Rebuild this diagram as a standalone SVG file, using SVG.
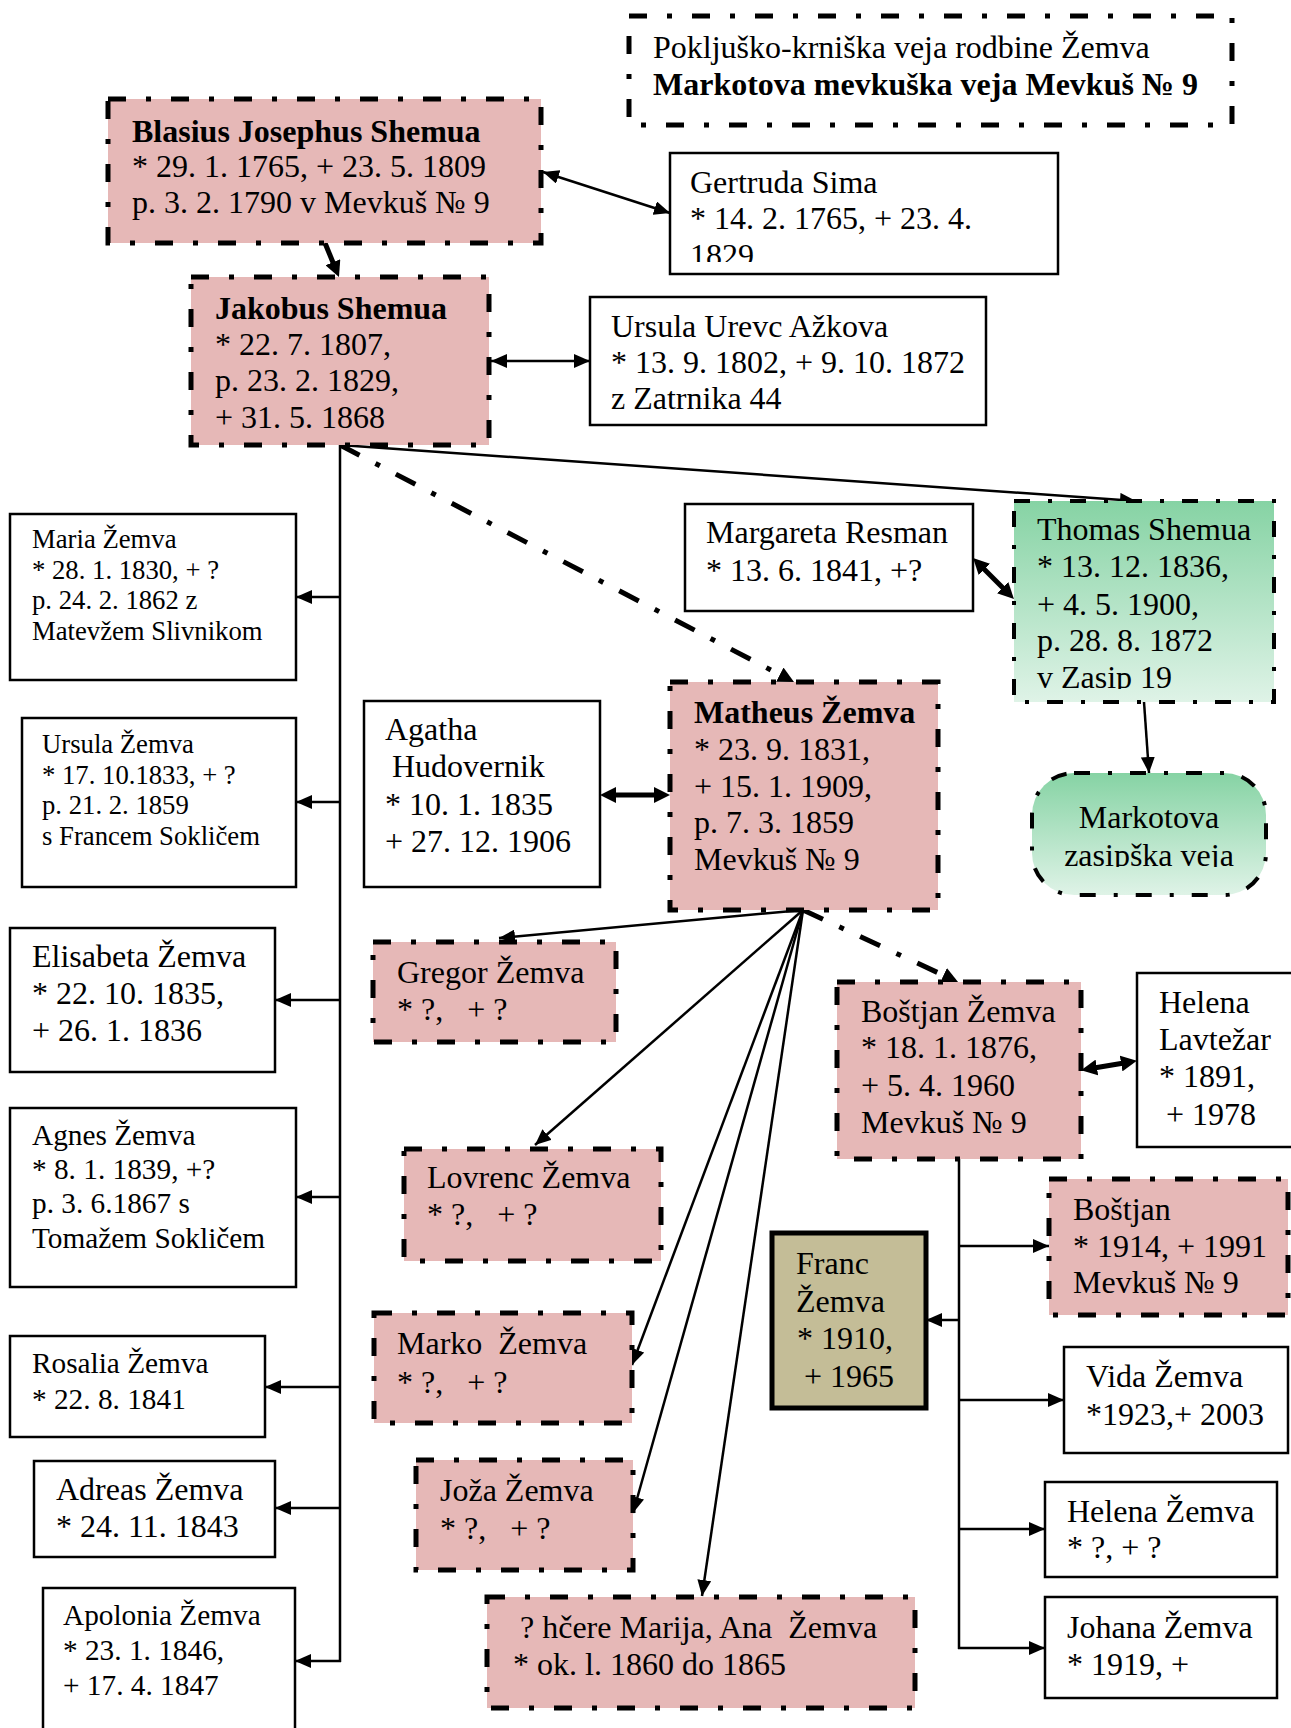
<svg xmlns="http://www.w3.org/2000/svg" width="1291" height="1728" viewBox="0 0 1291 1728">
<style>
.t{font-family:"Liberation Serif","Times New Roman",serif;font-size:32px;fill:#000}
.b{font-weight:bold}
.s26{font-size:26.7px}
.s29{font-size:29.3px}
.pink{fill:#e6b8b7;stroke:#000;stroke-width:5;stroke-dasharray:18 20 5 20}
.plain{fill:#fff;stroke:#000;stroke-width:2.5}
.green{stroke:#000;stroke-width:4;stroke-dasharray:16 18 4 18}
.c{stroke:#000;stroke-width:2.5;fill:none}
.ck{stroke:#000;stroke-width:5;fill:none}
.dd{stroke-dasharray:22 18 5 18}
</style>
<defs>
<marker id="a" viewBox="0 0 16 14" refX="16" refY="7" markerWidth="16" markerHeight="14" markerUnits="userSpaceOnUse" orient="auto-start-reverse"><path d="M0,0 L16,7 L0,14 z" fill="#000"/></marker>
<marker id="k" viewBox="0 0 16 16" refX="9" refY="8" markerWidth="16" markerHeight="16" markerUnits="userSpaceOnUse" orient="auto-start-reverse"><path d="M0,0 L16,8 L0,16 z" fill="#000"/></marker>
<linearGradient id="gr" x1="0" y1="0" x2="0" y2="1"><stop offset="0" stop-color="#86d3a4"/><stop offset="1" stop-color="#dff3e7"/></linearGradient>
<clipPath id="clG"><rect x="660" y="150" width="400" height="112"/></clipPath>
<clipPath id="clT"><rect x="1010" y="500" width="270" height="189"/></clipPath>
<clipPath id="clM"><rect x="1030" y="770" width="240" height="97"/></clipPath>
</defs>

<g id="connectors">
<line class="c" x1="543" y1="172" x2="670" y2="213" marker-start="url(#a)" marker-end="url(#a)"/>
<line class="ck" x1="325" y1="243" x2="336.3" y2="270.5" marker-end="url(#k)"/>
<line class="c" x1="491" y1="361" x2="590" y2="361" marker-start="url(#a)" marker-end="url(#a)"/>
<line class="c" stroke-width="3" x1="340" y1="445" x2="1136" y2="501" marker-end="url(#a)"/>
<line class="ck dd" x1="340" y1="445" x2="787.8" y2="678.8" marker-end="url(#k)"/>
<line class="ck" x1="978" y1="563" x2="1009" y2="594" marker-start="url(#k)" marker-end="url(#k)"/>
<line class="c" x1="1144" y1="702" x2="1149" y2="773" marker-end="url(#a)"/>
<line class="ck" x1="607" y1="795" x2="663" y2="795" marker-start="url(#k)" marker-end="url(#k)"/>
<line class="c" x1="803" y1="910" x2="499" y2="938" marker-end="url(#a)"/>
<line class="c" x1="803" y1="910" x2="535" y2="1145" marker-end="url(#a)"/>
<line class="c" x1="803" y1="910" x2="632" y2="1365" marker-end="url(#a)"/>
<line class="c" x1="803" y1="910" x2="633" y2="1513" marker-end="url(#a)"/>
<line class="c" x1="803" y1="910" x2="702" y2="1596" marker-end="url(#a)"/>
<line class="ck dd" x1="803" y1="910" x2="951.7" y2="979.1" marker-end="url(#k)"/>
<line class="ck" x1="1088" y1="1069" x2="1130" y2="1062" marker-start="url(#k)" marker-end="url(#k)"/>
<line class="c" x1="340" y1="445" x2="340" y2="1662"/>
<line class="c" x1="341" y1="597" x2="296" y2="597" marker-end="url(#a)"/>
<line class="c" x1="341" y1="802" x2="296" y2="802" marker-end="url(#a)"/>
<line class="c" x1="341" y1="1000" x2="275" y2="1000" marker-end="url(#a)"/>
<line class="c" x1="341" y1="1197" x2="296" y2="1197" marker-end="url(#a)"/>
<line class="c" x1="341" y1="1387" x2="265" y2="1387" marker-end="url(#a)"/>
<line class="c" x1="341" y1="1508" x2="275" y2="1508" marker-end="url(#a)"/>
<line class="c" x1="341" y1="1661" x2="295" y2="1661" marker-end="url(#a)"/>
<line class="c" stroke-width="3" x1="959" y1="1159" x2="959" y2="1649"/>
<line class="c" stroke-width="3" x1="958" y1="1246" x2="1049" y2="1246" marker-end="url(#a)"/>
<line class="c" stroke-width="3" x1="960" y1="1320" x2="926" y2="1320" marker-end="url(#a)"/>
<line class="c" stroke-width="3" x1="958" y1="1400" x2="1064" y2="1400" marker-end="url(#a)"/>
<line class="c" stroke-width="3" x1="958" y1="1529" x2="1045" y2="1529" marker-end="url(#a)"/>
<line class="c" stroke-width="3" x1="958" y1="1648" x2="1045" y2="1648" marker-end="url(#a)"/>
</g>

<g id="title">
<rect x="629" y="16" width="603" height="109" fill="#fff" stroke="#000" stroke-width="5" stroke-dasharray="18 20 5 20"/>
<text class="t" x="653" y="58">Pokljuško-krniška veja rodbine Žemva</text>
<text class="t b" x="653" y="95">Markotova mevkuška veja Mevkuš № 9</text>
</g>

<g id="blasius">
<rect class="pink" x="108" y="99" width="433" height="144"/>
<text class="t b" x="132" y="142">Blasius Josephus Shemua</text>
<text class="t" x="132" y="177">* 29. 1. 1765, + 23. 5. 1809</text>
<text class="t" x="132" y="213">p. 3. 2. 1790 v Mevkuš № 9</text>
</g>

<g id="gertruda">
<rect class="plain" x="670" y="153" width="388" height="121"/>
<g clip-path="url(#clG)">
<text class="t" x="690" y="193">Gertruda Sima</text>
<text class="t" x="690" y="229">* 14. 2. 1765, + 23. 4.</text>
<text class="t" x="690" y="266">1829</text>
</g>
</g>

<g id="jakobus">
<rect class="pink" x="191" y="277" width="298" height="168"/>
<text class="t b" x="215" y="319">Jakobus Shemua</text>
<text class="t" x="215" y="355">* 22. 7. 1807,</text>
<text class="t" x="215" y="391">p. 23. 2. 1829,</text>
<text class="t" x="215" y="428">+ 31. 5. 1868</text>
</g>

<g id="ursula-urevc">
<rect class="plain" x="590" y="297" width="396" height="128"/>
<text class="t" x="611" y="337">Ursula Urevc Ažkova</text>
<text class="t" x="611" y="373">* 13. 9. 1802, + 9. 10. 1872</text>
<text class="t" x="611" y="409">z Zatrnika 44</text>
</g>

<g id="maria">
<rect class="plain" x="10" y="514" width="286" height="166"/>
<text class="t s26" x="32" y="548">Maria Žemva</text>
<text class="t s26" x="32" y="579">* 28. 1. 1830, + ?</text>
<text class="t s26" x="32" y="609">p. 24. 2. 1862 z</text>
<text class="t s26" x="32" y="640">Matevžem Slivnikom</text>
</g>

<g id="margareta">
<rect class="plain" x="685" y="504" width="288" height="107"/>
<text class="t" x="706" y="543">Margareta Resman</text>
<text class="t" x="706" y="581">* 13. 6. 1841, +?</text>
</g>

<g id="thomas">
<rect x="1014" y="501" width="260" height="201" fill="url(#gr)" class="green"/>
<g clip-path="url(#clT)">
<text class="t" x="1037" y="540">Thomas Shemua</text>
<text class="t" x="1037" y="577">* 13. 12. 1836,</text>
<text class="t" x="1037" y="615">+ 4. 5. 1900,</text>
<text class="t" x="1037" y="651">p. 28. 8. 1872</text>
<text class="t" x="1037" y="688">v Zasip 19</text>
</g>
</g>

<g id="markotova-zasipska">
<rect x="1032" y="773" width="234" height="122" rx="42" ry="42" fill="url(#gr)" class="green"/>
<g clip-path="url(#clM)">
<text class="t" x="1149" y="828" text-anchor="middle">Markotova</text>
<text class="t" x="1149" y="866" text-anchor="middle">zasipška veja</text>
</g>
</g>

<g id="ursula-zemva">
<rect class="plain" x="22" y="718" width="274" height="169"/>
<text class="t s26" x="42" y="753">Ursula Žemva</text>
<text class="t s26" x="42" y="784">* 17. 10.1833, + ?</text>
<text class="t s26" x="42" y="814">p. 21. 2. 1859</text>
<text class="t s26" x="42" y="845">s Francem Sokličem</text>
</g>

<g id="agatha">
<rect class="plain" x="364" y="701" width="236" height="186"/>
<text class="t" x="385" y="740">Agatha</text>
<text class="t" x="392" y="777">Hudovernik</text>
<text class="t" x="385" y="815">* 10. 1. 1835</text>
<text class="t" x="385" y="852">+ 27. 12. 1906</text>
</g>

<g id="matheus">
<rect class="pink" x="670" y="682" width="268" height="228"/>
<text class="t b" x="694" y="723">Matheus Žemva</text>
<text class="t" x="694" y="760">* 23. 9. 1831,</text>
<text class="t" x="694" y="797">+ 15. 1. 1909,</text>
<text class="t" x="694" y="833">p. 7. 3. 1859</text>
<text class="t" x="694" y="870">Mevkuš № 9</text>
</g>

<g id="elisabeta">
<rect class="plain" x="10" y="928" width="265" height="144"/>
<text class="t" x="32" y="967">Elisabeta Žemva</text>
<text class="t" x="32" y="1004">* 22. 10. 1835,</text>
<text class="t" x="32" y="1041">+ 26. 1. 1836</text>
</g>

<g id="gregor">
<rect class="pink" x="373" y="942" width="243" height="100"/>
<text class="t" x="397" y="983">Gregor Žemva</text>
<text class="t" x="397" y="1020">* ?,&#160;&#160; + ?</text>
</g>

<g id="bostjan">
<rect class="pink" x="837" y="982" width="244" height="177"/>
<text class="t" x="861" y="1022">Boštjan Žemva</text>
<text class="t" x="861" y="1058">* 18. 1. 1876,</text>
<text class="t" x="861" y="1096">+ 5. 4. 1960</text>
<text class="t" x="861" y="1133">Mevkuš № 9</text>
</g>

<g id="helena-lavtezar">
<rect class="plain" x="1137" y="973" width="170" height="174"/>
<text class="t" x="1159" y="1013">Helena</text>
<text class="t" x="1159" y="1050">Lavtežar</text>
<text class="t" x="1159" y="1087">* 1891,</text>
<text class="t" x="1166" y="1125">+ 1978</text>
</g>

<g id="agnes">
<rect class="plain" x="10" y="1108" width="286" height="179"/>
<text class="t s29" x="32" y="1145">Agnes Žemva</text>
<text class="t s29" x="32" y="1179">* 8. 1. 1839, +?</text>
<text class="t s29" x="32" y="1213">p. 3. 6.1867 s</text>
<text class="t s29" x="32" y="1248">Tomažem Sokličem</text>
</g>

<g id="lovrenc">
<rect class="pink" x="404" y="1149" width="257" height="112"/>
<text class="t" x="427" y="1188">Lovrenc Žemva</text>
<text class="t" x="427" y="1225">* ?,&#160;&#160; + ?</text>
</g>

<g id="bostjan-sin">
<rect class="pink" x="1049" y="1179" width="239" height="136"/>
<text class="t" x="1073" y="1220">Boštjan</text>
<text class="t" x="1073" y="1257">* 1914, + 1991</text>
<text class="t" x="1073" y="1293">Mevkuš № 9</text>
</g>

<g id="franc">
<rect x="772" y="1233" width="154" height="175" fill="#c4bd97" stroke="#000" stroke-width="5"/>
<text class="t" x="796" y="1274">Franc</text>
<text class="t" x="796" y="1312">Žemva</text>
<text class="t" x="797" y="1349">* 1910,</text>
<text class="t" x="804" y="1387">+ 1965</text>
</g>

<g id="marko">
<rect class="pink" x="374" y="1313" width="258" height="110"/>
<text class="t" x="397" y="1354">Marko&#160; Žemva</text>
<text class="t" x="397" y="1393">* ?,&#160;&#160; + ?</text>
</g>

<g id="rosalia">
<rect class="plain" x="10" y="1336" width="255" height="101"/>
<text class="t s29" x="32" y="1373">Rosalia Žemva</text>
<text class="t s29" x="32" y="1409">* 22. 8. 1841</text>
</g>

<g id="vida">
<rect class="plain" x="1064" y="1347" width="224" height="106"/>
<text class="t" x="1086" y="1387">Vida Žemva</text>
<text class="t" x="1086" y="1425">*1923,+ 2003</text>
</g>

<g id="adreas">
<rect class="plain" x="34" y="1461" width="241" height="96"/>
<text class="t" x="56" y="1500">Adreas Žemva</text>
<text class="t" x="56" y="1537">* 24. 11. 1843</text>
</g>

<g id="joza">
<rect class="pink" x="416" y="1460" width="217" height="110"/>
<text class="t" x="440" y="1501">Joža Žemva</text>
<text class="t" x="440" y="1539">* ?,&#160;&#160; + ?</text>
</g>

<g id="helena-zemva">
<rect class="plain" x="1045" y="1482" width="232" height="95"/>
<text class="t" x="1067" y="1522">Helena Žemva</text>
<text class="t" x="1067" y="1558">* ?, + ?</text>
</g>

<g id="hcere">
<rect class="pink" x="487" y="1597" width="428" height="111"/>
<text class="t" x="520" y="1638">? hčere Marija, Ana&#160; Žemva</text>
<text class="t" x="513" y="1675">* ok. l. 1860 do 1865</text>
</g>

<g id="johana">
<rect class="plain" x="1045" y="1597" width="232" height="101"/>
<text class="t" x="1067" y="1638">Johana Žemva</text>
<text class="t" x="1067" y="1675">* 1919, +</text>
</g>

<g id="apolonia">
<rect class="plain" x="43" y="1588" width="252" height="160"/>
<text class="t s29" x="63" y="1625">Apolonia Žemva</text>
<text class="t s29" x="63" y="1660">* 23. 1. 1846,</text>
<text class="t s29" x="63" y="1695">+ 17. 4. 1847</text>
</g>
</svg>
